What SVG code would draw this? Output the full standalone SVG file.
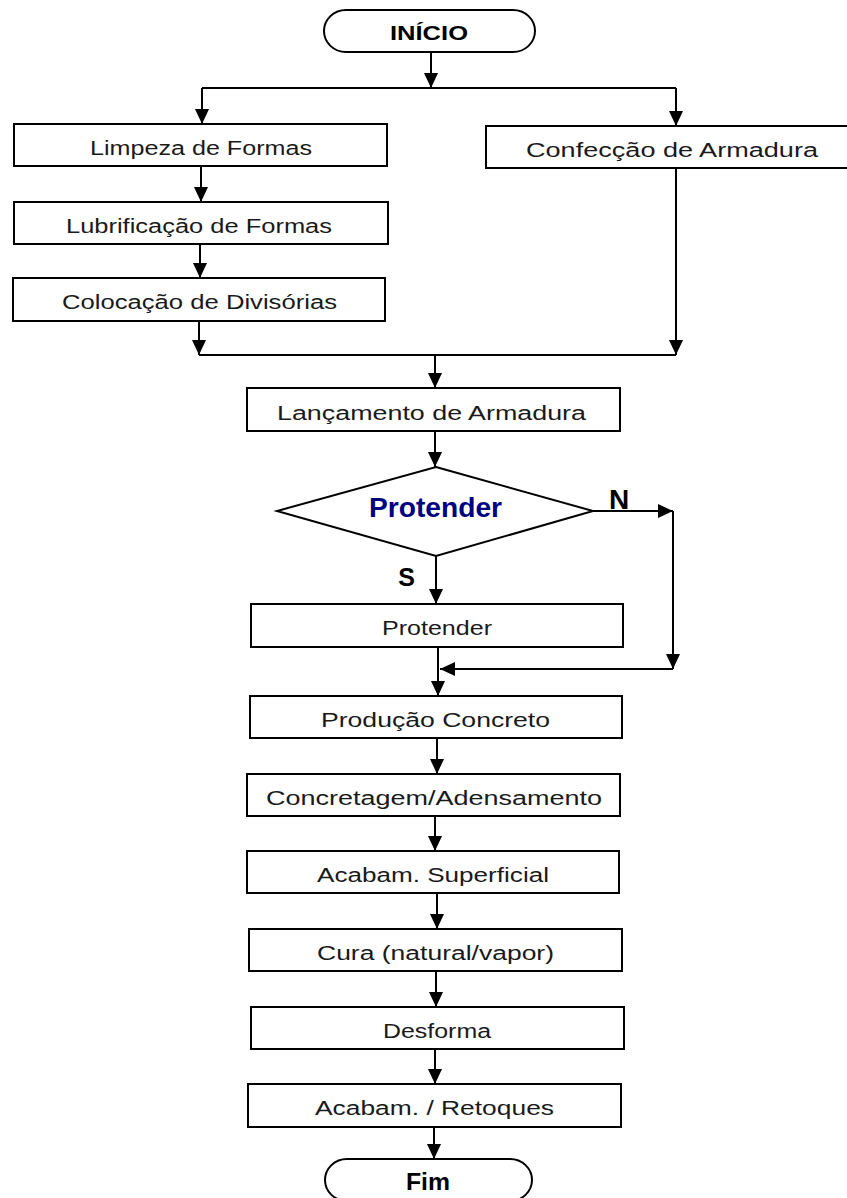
<svg xmlns="http://www.w3.org/2000/svg" width="847" height="1198" viewBox="0 0 847 1198">
<style>
.box{fill:#fff;stroke:#000;stroke-width:2}
.t{font-family:"Liberation Sans",Arial,sans-serif;font-size:20px;fill:#1a1a1a;text-anchor:middle}
.tb{font-family:"Liberation Sans",Arial,sans-serif;font-weight:bold;fill:#000;text-anchor:middle}
.c{fill:none;stroke:#000;stroke-width:2}
.a{marker-end:url(#ah)}
</style>
<defs>
<marker id="ah" markerUnits="userSpaceOnUse" viewBox="0 0 15 14" refX="15" refY="7" markerWidth="15" markerHeight="14" orient="auto">
<path d="M0,0 L15,7 L0,14 Z" fill="#000"/>
</marker>
</defs>
<g id="connectors">
<path class="c a" d="M431,52 V88"/>
<path class="c" d="M202,88 H676"/>
<path class="c a" d="M202,88 V124"/>
<path class="c a" d="M676,88 V126"/>
<path class="c a" d="M201,166 V202"/>
<path class="c a" d="M200,244 V278"/>
<path class="c a" d="M199,321 V355"/>
<path class="c a" d="M676,168 V355"/>
<path class="c" d="M199,355 H676"/>
<path class="c a" d="M435,355 V388"/>
<path class="c a" d="M435,431 V467"/>
<path class="c a" d="M436,556 V604"/>
<path class="c a" d="M593,511 H673"/>
<path class="c a" d="M673,511 V669"/>
<path class="c a" d="M673,669 H440"/>
<path class="c a" d="M438,647 V696"/>
<path class="c a" d="M437,738 V774"/>
<path class="c a" d="M435,816 V851"/>
<path class="c a" d="M437,893 V929"/>
<path class="c a" d="M436,971 V1007"/>
<path class="c a" d="M435,1049 V1084"/>
<path class="c a" d="M434,1127 V1159"/>
</g>
<g id="inicio">
<path class="box" d="M346,10 H513 A22,21 0 0 1 513,52 H346 A22,21 0 0 1 346,10 Z"/>
<text class="tb" x="429" y="40" font-size="21" textLength="78" lengthAdjust="spacingAndGlyphs">INÍCIO</text>
</g>
<g id="limpeza">
<rect class="box" x="14" y="124" width="373" height="42"/>
<text class="t" x="201" y="155" textLength="222" lengthAdjust="spacingAndGlyphs">Limpeza de Formas</text>
</g>
<g id="confeccao">
<rect class="box" x="486" y="126" width="370" height="42"/>
<text class="t" x="672" y="157" textLength="292" lengthAdjust="spacingAndGlyphs">Confecção de Armadura</text>
</g>
<g id="lubrificacao">
<rect class="box" x="14" y="202" width="374" height="42"/>
<text class="t" x="199" y="233" textLength="266" lengthAdjust="spacingAndGlyphs">Lubrificação de Formas</text>
</g>
<g id="colocacao">
<rect class="box" x="13" y="278" width="372" height="43"/>
<text class="t" x="199.5" y="309" textLength="275" lengthAdjust="spacingAndGlyphs">Colocação de Divisórias</text>
</g>
<g id="lancamento">
<rect class="box" x="247" y="388" width="373" height="43"/>
<text class="t" x="431.5" y="420" textLength="309" lengthAdjust="spacingAndGlyphs">Lançamento de Armadura</text>
</g>
<g id="decisao">
<path class="box" d="M436,467 L593,511 L436,556 L277,511 Z"/>
<text class="tb" x="435.5" y="517" font-size="27" style="fill:#000080" textLength="133" lengthAdjust="spacingAndGlyphs">Protender</text>
</g>
<text class="tb" x="619" y="509" font-size="28">N</text>
<text class="tb" x="406.5" y="586" font-size="25">S</text>
<g id="protender">
<rect class="box" x="251" y="604" width="372" height="43"/>
<text class="t" x="437" y="635" textLength="110" lengthAdjust="spacingAndGlyphs">Protender</text>
</g>
<g id="producao">
<rect class="box" x="250" y="696" width="372" height="42"/>
<text class="t" x="435.5" y="727" textLength="229" lengthAdjust="spacingAndGlyphs">Produção Concreto</text>
</g>
<g id="concretagem">
<rect class="box" x="247" y="774" width="373" height="42"/>
<text class="t" x="434" y="805" textLength="336" lengthAdjust="spacingAndGlyphs">Concretagem/Adensamento</text>
</g>
<g id="acabamento">
<rect class="box" x="247" y="851" width="372" height="42"/>
<text class="t" x="433" y="882" textLength="232" lengthAdjust="spacingAndGlyphs">Acabam. Superficial</text>
</g>
<g id="cura">
<rect class="box" x="249" y="929" width="373" height="42"/>
<text class="t" x="435.5" y="960" textLength="237" lengthAdjust="spacingAndGlyphs">Cura (natural/vapor)</text>
</g>
<g id="desforma">
<rect class="box" x="251" y="1007" width="373" height="42"/>
<text class="t" x="437" y="1038" textLength="108" lengthAdjust="spacingAndGlyphs">Desforma</text>
</g>
<g id="retoques">
<rect class="box" x="248" y="1084" width="373" height="43"/>
<text class="t" x="434.5" y="1115" textLength="239" lengthAdjust="spacingAndGlyphs">Acabam. / Retoques</text>
</g>
<g id="fim">
<path class="box" d="M347,1159 H510 A22,21 0 0 1 510,1201 H347 A22,21 0 0 1 347,1159 Z"/>
<text class="tb" x="428" y="1190" font-size="23" textLength="44" lengthAdjust="spacingAndGlyphs">Fim</text>
</g>
</svg>
